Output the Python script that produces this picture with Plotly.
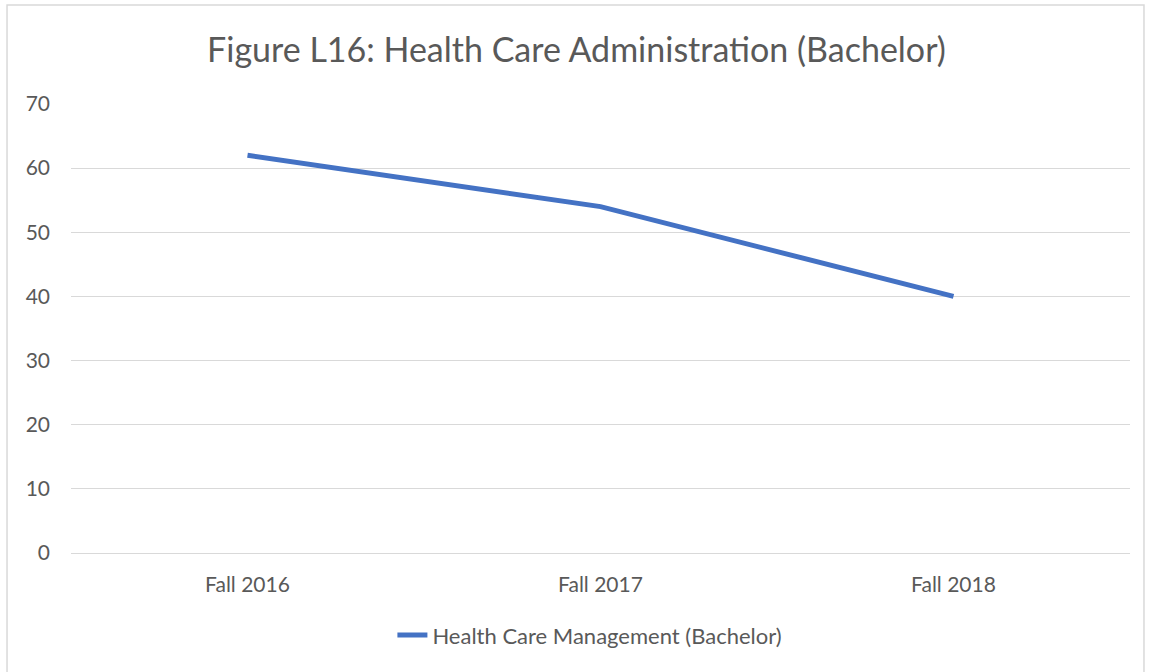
import plotly.graph_objects as go

# Data
terms = ["Fall 2016", "Fall 2017", "Fall 2018"]
enrollment = [62, 54, 40]
series_name = "Health Care Management (Bachelor)"

fig = go.Figure()

fig.add_trace(go.Scatter(
    x=terms,
    y=enrollment,
    mode='lines',
    name=series_name,
    line=dict(color='#4472C4', width=5),
))

# Chart border (light gray frame)
fig.add_shape(
    type="rect",
    xref="paper", yref="paper",
    x0=-0.0604, x1=1.0132, y0=-0.28, y1=1.2205,
    line=dict(color="#D9D9D9", width=1.5),
    fillcolor="rgba(0,0,0,0)",
    layer="below"
)

fig.update_layout(
    width=1153, height=672,
    margin=dict(l=71, r=23, t=104, b=119),
    paper_bgcolor='white',
    plot_bgcolor='white',
    font=dict(family='Lato, Open Sans, sans-serif', color='#595959', size=21),
    title=dict(
        text='Figure L16: Health Care Administration (Bachelor)',
        x=0.5, xanchor='center', xref='container',
        y=1 - 50 / 672, yanchor='middle', yref='container',
        font=dict(size=34, color='#595959'),
    ),
    showlegend=True,
    legend=dict(
        orientation='h',
        x=0.49, xanchor='center',
        y=-0.183, yanchor='middle',
        font=dict(size=22, color='#595959'),
    ),
    xaxis=dict(
        type='category',
        range=[-0.5, 2.5],
        showgrid=False,
        showline=False,
        zeroline=False,
        ticks='',
        ticklabelstandoff=17,
        tickfont=dict(size=21, color='#595959'),
    ),
    yaxis=dict(
        range=[0, 70],
        dtick=10,
        showgrid=True,
        gridcolor='#D9D9D9',
        gridwidth=1.3,
        zeroline=True,
        zerolinecolor='#D9D9D9',
        zerolinewidth=1.3,
        showline=False,
        ticks='',
        ticklabelstandoff=20,
        tickfont=dict(size=21, color='#595959'),
    ),
)

# drop the default 8px body margin so the figure sits at the page origin
fig.write_html(
    "out.html",
    config={'displayModeBar': False},
    post_script="document.body.style.margin='0';",
)
